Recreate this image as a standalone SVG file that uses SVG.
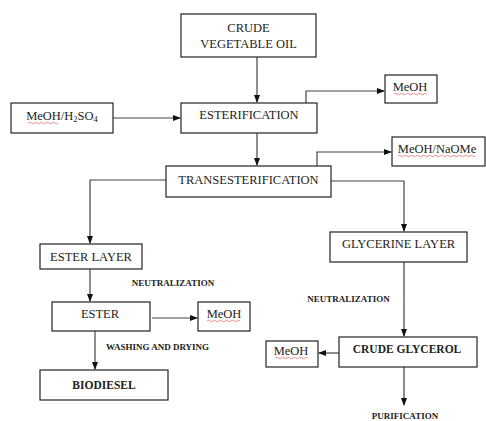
<svg xmlns="http://www.w3.org/2000/svg" width="486" height="421" viewBox="0 0 486 421">
<defs>
<marker id="ah" markerWidth="8" markerHeight="6" refX="7" refY="3" orient="auto" markerUnits="userSpaceOnUse">
<path d="M0,0 L8,3 L0,6 Z" fill="#111"/>
</marker>
</defs>
<style>
.box{fill:#fff;stroke:#222;stroke-width:1.2}
.t{font-family:"Liberation Serif","Times New Roman",serif;font-size:12.5px;fill:#222;text-anchor:middle}
.b{font-family:"Liberation Serif","Times New Roman",serif;font-size:9px;font-weight:bold;fill:#222;text-anchor:middle}
.bb{font-family:"Liberation Serif","Times New Roman",serif;font-size:11.5px;font-weight:bold;fill:#222;text-anchor:middle}
.c{fill:none;stroke:#444;stroke-width:1.2}
.sq{fill:none;stroke:#e04040;stroke-width:0.6}
</style>
<rect width="486" height="421" fill="#fff"/>
<g id="connectors">
<path class="c" d="M257,57 V102" marker-end="url(#ah)"/>
<path class="c" d="M113,118 H180" marker-end="url(#ah)"/>
<path class="c" d="M306,103 V91 H384" marker-end="url(#ah)"/>
<path class="c" d="M257,133 V165" marker-end="url(#ah)"/>
<path class="c" d="M317,166 V152 H391" marker-end="url(#ah)"/>
<path class="c" d="M166,180 H90 V243" marker-end="url(#ah)"/>
<path class="c" d="M331,181 H404 V231" marker-end="url(#ah)"/>
<path class="c" d="M90,269 V301" marker-end="url(#ah)"/>
<path class="c" d="M152,318 H197" marker-end="url(#ah)"/>
<path class="c" d="M95,331 V369" marker-end="url(#ah)"/>
<path class="c" d="M404,262 V336" marker-end="url(#ah)"/>
<path class="c" d="M339,353 H319" marker-end="url(#ah)"/>
<path class="c" d="M404,367 V405" marker-end="url(#ah)"/>
</g>
<g id="crude-oil">
<rect class="box" x="181" y="14" width="135" height="43"/>
<text class="t" x="248.5" y="32">CRUDE</text>
<text class="t" x="248.5" y="48">VEGETABLE OIL</text>
</g>
<g id="meoh-h2so4">
<rect class="box" x="11" y="103" width="102" height="30"/>
<text class="t" x="62" y="120">MeOH/H<tspan font-size="8.5" dy="2">2</tspan><tspan dy="-2">SO</tspan><tspan font-size="8.5" dy="2">4</tspan></text>
<path class="sq" d="M28,123 q1.5,-1.5 3,0 t3,0 t3,0 t3,0 t3,0 t3,0 t3,0 t3,0 t3,0 t3,0"/>
</g>
<g id="esterification">
<rect class="box" x="181" y="103" width="136" height="30"/>
<text class="t" x="249" y="119">ESTERIFICATION</text>
</g>
<g id="meoh-1">
<rect class="box" x="385" y="75" width="52" height="28"/>
<text class="t" x="410" y="91">MeOH</text>
<path class="sq" d="M394,94 q1.5,-1.5 3,0 t3,0 t3,0 t3,0 t3,0 t3,0 t3,0 t3,0 t3,0 t3,0 t3,0"/>
</g>
<g id="transesterification">
<rect class="box" x="166" y="166" width="165" height="31"/>
<text class="t" x="248.5" y="183.5">TRANSESTERIFICATION</text>
</g>
<g id="meoh-naome">
<rect class="box" x="392" y="137" width="93" height="29"/>
<text class="t" x="437" y="153">MeOH/NaOMe</text>
<path class="sq" d="M398,156 q1.5,-1.5 3,0 t3,0 t3,0 t3,0 t3,0 t3,0 t3,0 t3,0 t3,0 t3,0 t3,0 t3,0 t3,0 t3,0 t3,0 t3,0 t3,0 t3,0 t3,0 t3,0 t3,0 t3,0 t3,0 t3,0 t3,0 t2,0"/>
</g>
<g id="ester-layer">
<rect class="box" x="40" y="244" width="102" height="25"/>
<text class="t" x="91" y="260.5">ESTER LAYER</text>
</g>
<text class="b" x="173" y="286">NEUTRALIZATION</text>
<g id="ester">
<rect class="box" x="52" y="302" width="98" height="29"/>
<text class="t" x="100" y="317.5">ESTER</text>
</g>
<g id="meoh-2">
<rect class="box" x="198" y="302" width="52" height="29"/>
<text class="t" x="224" y="318">MeOH</text>
<path class="sq" d="M207,321 q1.5,-1.5 3,0 t3,0 t3,0 t3,0 t3,0 t3,0 t3,0 t3,0 t3,0 t3,0 t3,0"/>
</g>
<text class="b" x="157.5" y="350">WASHING AND DRYING</text>
<g id="biodiesel">
<rect class="box" x="40" y="370" width="128" height="30"/>
<text class="bb" x="104" y="389">BIODIESEL</text>
</g>
<g id="glycerine-layer">
<rect class="box" x="330" y="232" width="137" height="30"/>
<text class="t" x="398.5" y="247.5">GLYCERINE LAYER</text>
</g>
<text class="b" x="348.5" y="302">NEUTRALIZATION</text>
<g id="crude-glycerol">
<rect class="box" x="339" y="337" width="138" height="30"/>
<text class="bb" x="407" y="353">CRUDE  GLYCEROL</text>
</g>
<g id="meoh-3">
<rect class="box" x="266" y="341" width="52" height="26"/>
<text class="t" x="291" y="355">MeOH</text>
<path class="sq" d="M275,358 q1.5,-1.5 3,0 t3,0 t3,0 t3,0 t3,0 t3,0 t3,0 t3,0 t3,0 t3,0 t3,0"/>
</g>
<text class="b" x="405" y="419">PURIFICATION</text>
</svg>
